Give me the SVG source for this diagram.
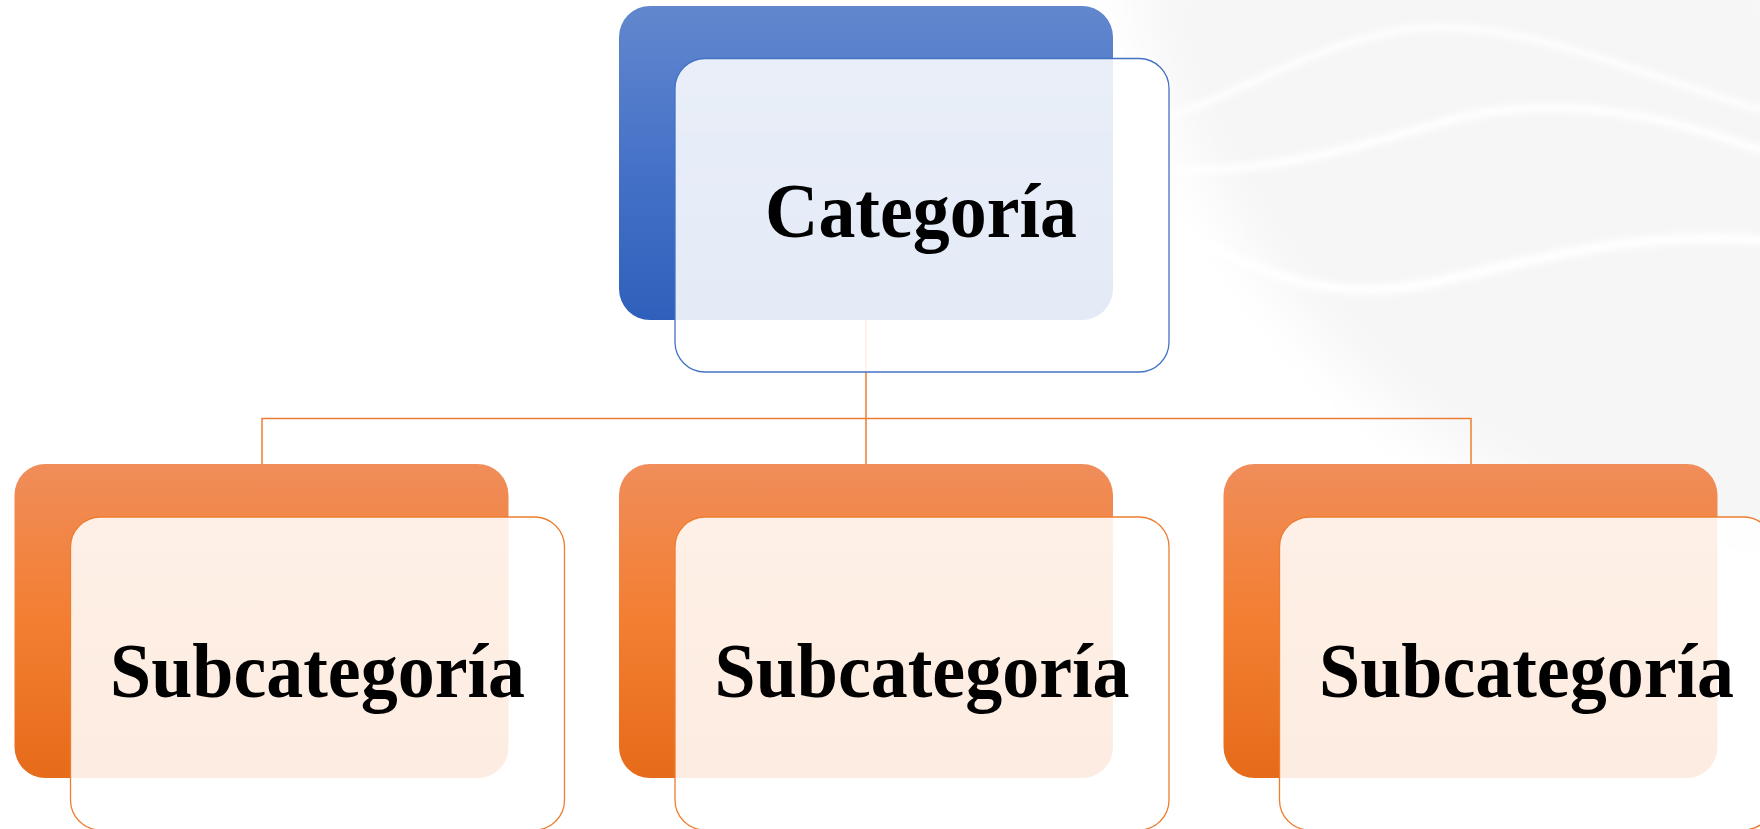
<svg xmlns="http://www.w3.org/2000/svg" width="1760" height="829" viewBox="0 0 1760 829">
<defs>
<linearGradient id="gBlue" x1="0" y1="0" x2="0" y2="1">
<stop offset="0" stop-color="#6287cd"/>
<stop offset="0.5" stop-color="#4672c8"/>
<stop offset="1" stop-color="#2e60bb"/>
</linearGradient>
<linearGradient id="gOrange" x1="0" y1="0" x2="0" y2="1">
<stop offset="0" stop-color="#f08d5a"/>
<stop offset="0.5" stop-color="#f37e31"/>
<stop offset="1" stop-color="#e66b1a"/>
</linearGradient>
<filter id="soft" x="-20%" y="-20%" width="140%" height="140%">
<feGaussianBlur stdDeviation="28"/>
</filter>
<filter id="softLine" x="-10%" y="-50%" width="120%" height="200%">
<feGaussianBlur stdDeviation="3"/>
</filter>
</defs>
<style>
.back{stroke:none}
.fb{fill:#ffffff;fill-opacity:0.87;stroke:#4472c4;stroke-width:1.3}
.fo{fill:#ffffff;fill-opacity:0.87;stroke:#ed7d31;stroke-width:1.3}
.lbl{font-family:"Liberation Serif","Times New Roman",serif;font-weight:bold;font-size:78px;fill:#000000;text-anchor:middle}
.conn{fill:none;stroke:#ed7d31;stroke-width:1.5}
.wave{fill:none;stroke:#ffffff;stroke-linecap:round}
</style>
<g id="background">
<path d="M1130 -40 L1800 -40 L1800 580 C1680 560 1560 510 1450 450 C1340 380 1250 270 1190 150 C1160 90 1140 30 1130 -40 Z" fill="#f6f6f6" filter="url(#soft)"/>
<g filter="url(#softLine)">
<path class="wave" stroke-width="6" d="M1160 120 C1250 90 1300 50 1400 30 C1500 15 1600 60 1760 110"/>
<path class="wave" stroke-width="8" d="M1160 170 C1260 175 1350 150 1450 120 C1550 95 1650 110 1760 150"/>
<path class="wave" stroke-width="10" d="M1170 225 C1270 280 1330 300 1420 285 C1520 265 1620 230 1760 240"/>
</g>
</g>
<g id="connectors">
<line class="conn" x1="866" y1="320" x2="866" y2="418.5"/>
<polyline class="conn" points="262,464 262,418.5 1471,418.5 1471,464"/>
<line class="conn" x1="866" y1="418.5" x2="866" y2="464"/>
</g>
<g id="node-categoria">
<rect class="back" x="619" y="6" width="494" height="314" rx="31" fill="url(#gBlue)"/>
<rect class="fb" x="675" y="58.5" width="494" height="313.5" rx="30"/>
<text class="lbl" x="921" y="237" textLength="312" lengthAdjust="spacingAndGlyphs">Categoría</text>
</g>
<g id="node-sub1">
<rect class="back" x="14.5" y="464" width="494" height="314" rx="31" fill="url(#gOrange)"/>
<rect class="fo" x="70.5" y="517" width="494" height="313" rx="30"/>
<text class="lbl" x="317.5" y="697" textLength="415" lengthAdjust="spacingAndGlyphs">Subcategoría</text>
</g>
<g id="node-sub2">
<rect class="back" x="619" y="464" width="494" height="314" rx="31" fill="url(#gOrange)"/>
<rect class="fo" x="675" y="517" width="494" height="313" rx="30"/>
<text class="lbl" x="922" y="697" textLength="415" lengthAdjust="spacingAndGlyphs">Subcategoría</text>
</g>
<g id="node-sub3">
<rect class="back" x="1223.5" y="464" width="494" height="314" rx="31" fill="url(#gOrange)"/>
<rect class="fo" x="1279.5" y="517" width="494" height="313" rx="30"/>
<text class="lbl" x="1526.5" y="697" textLength="415" lengthAdjust="spacingAndGlyphs">Subcategoría</text>
</g>
</svg>
